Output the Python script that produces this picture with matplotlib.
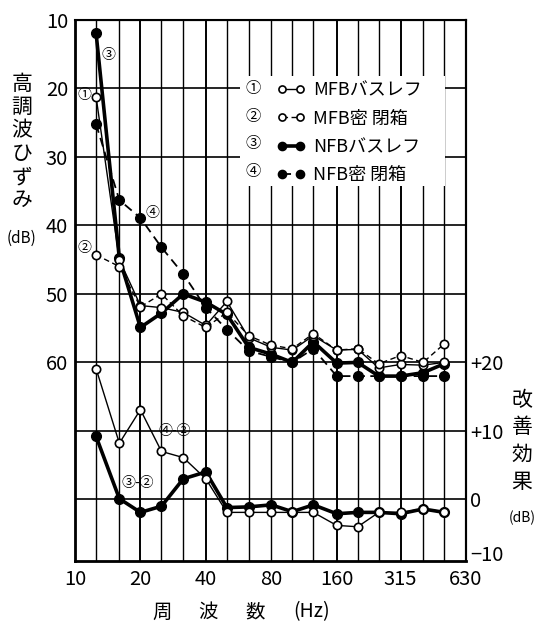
import matplotlib
matplotlib.use("Agg")
import matplotlib.pyplot as plt
from matplotlib.patches import Rectangle

plt.rcParams['font.family'] = ['Noto Sans CJK JP', 'DejaVu Sans']

# 1/3-octave measurement frequencies (Hz)
freqs = [12.5, 16, 20, 25, 31.5, 40, 50, 63, 80, 100, 125, 160, 200, 250, 315, 400, 500]

# Harmonic distortion (dB below fundamental)
mfb_bassreflex = [21.2, 45.0, 51.7, 52.0, 52.7, 54.6, 51.1, 56.4, 57.8, 58.2, 56.1, 58.2, 58.1, 60.8, 60.3, 60.4, 60.0]
mfb_closed     = [44.3, 46.0, 51.9, 50.0, 53.2, 54.9, 52.7, 56.1, 57.5, 58.0, 55.8, 58.2, 58.0, 60.2, 59.0, 60.0, 57.3]
nfb_bassreflex = [11.9, 44.8, 54.9, 52.8, 50.0, 51.2, 53.0, 57.8, 58.8, 60.0, 57.0, 60.1, 60.0, 62.0, 62.0, 61.5, 60.2]
nfb_closed     = [25.2, 36.3, 38.9, 43.2, 47.1, 52.0, 55.2, 58.3, 59.2, 60.0, 58.0, 62.0, 62.0, 62.0, 62.0, 62.0, 62.0]

# Improvement effect (dB, right axis)
effect_3_2 = [9.2, 0.1, -1.9, -1.0, 3.0, 4.0, -1.2, -1.1, -0.8, -1.8, -0.8, -2.1, -1.9, -1.9, -2.1, -1.4, -1.9]
effect_4_2 = [19.1, 8.2, 13.1, 7.0, 6.1, 3.0, -1.9, -1.9, -1.9, -1.9, -1.9, -3.8, -4.0, -1.9, -1.9, -1.4, -1.8]

grid_freqs = [12.5, 16, 20, 25, 31.5, 40, 50, 63, 80, 100, 125, 160, 200, 250, 315, 400, 500]
x_ticks = [10, 20, 40, 80, 160, 315, 630]
left_ticks = [10, 20, 30, 40, 50, 60]
right_ticks = [20, 10, 0]
right_labels = ['+20', '+10', '0']

legend_labels = ['MFBバスレフ', 'MFB密 閉箱', 'NFBバスレフ', 'NFB密 閉箱']
legend_nums = ['①', '②', '③', '④']

W, H = 539, 628
fig = plt.figure(figsize=(W / 100, H / 100), dpi=100)
x0, x1, y0, y1 = 75, 466, 20, 561
ax = fig.add_axes([x0 / W, 1 - y1 / H, (x1 - x0) / W, (y1 - y0) / H])

ax.set_xscale('log', base=2)
ax.set_xlim(10, 630)
ax.set_ylim(89, 10)

# grid
for f in grid_freqs:
    lw = 1.4 if f in (20, 40, 160, 315) else 1.0
    ax.axvline(f, color='black', lw=lw, zorder=1)
for v in range(20, 90, 10):
    ax.axhline(v, color='black', lw=1.2, zorder=1)

# white area behind the legend
ax.add_patch(Rectangle(((240 - x0) / (x1 - x0), (y1 - 186) / (y1 - y0)),
                       (445 - 240) / (x1 - x0), (186 - 76) / (y1 - y0),
                       transform=ax.transAxes, facecolor='white', edgecolor='none', zorder=2))

ms_open, ms_fill = 6, 7
open_kw = dict(marker='o', markersize=ms_open, markerfacecolor='white',
               markeredgecolor='black', markeredgewidth=1.2, color='black', zorder=5)
fill_kw = dict(marker='o', markersize=ms_fill, markerfacecolor='black',
               markeredgecolor='black', color='black', zorder=4)

h3, = ax.plot(freqs, nfb_bassreflex, lw=2.6, **fill_kw)
h4, = ax.plot(freqs, nfb_closed, lw=1.3, linestyle=(0, (5, 3)), **fill_kw)
h1, = ax.plot(freqs, mfb_bassreflex, lw=1.0, **open_kw)
h2, = ax.plot(freqs, mfb_closed, lw=1.0, linestyle=(0, (4, 2.5)), **open_kw)

# right axis: improvement effect
ax2 = ax.twinx()
ax2.set_ylim(80 - 89, 80 - 10)
ax2.plot(freqs, effect_3_2, lw=2.6, **fill_kw)
ax2.plot(freqs, effect_4_2, lw=1.0, **open_kw)

# ticks
ax.set_xticks(x_ticks)
ax.set_xticklabels([str(t) for t in x_ticks])
ax.xaxis.set_minor_locator(matplotlib.ticker.NullLocator())
ax.set_yticks(left_ticks)
ax.set_yticklabels([str(t) for t in left_ticks])
ax.tick_params(axis='both', length=0, labelsize=14.5)
ax.tick_params(axis='x', pad=6)
ax.tick_params(axis='y', pad=5)
ax2.set_yticks(right_ticks)
ax2.set_yticklabels(right_labels)
ax2.tick_params(axis='y', length=0, labelsize=14.5, pad=3)
ax2.text(1.012, (80 - 88.2 - (80 - 89)) / 79, '−10', transform=ax2.transAxes,
         fontsize=14.5, ha='left', va='center')

for sp in ('left', 'bottom'):
    ax.spines[sp].set_linewidth(2.0)
for sp in ('top', 'right'):
    ax.spines[sp].set_linewidth(1.5)
ax2.spines['right'].set_linewidth(1.5)

# legend
leg = ax.legend([h1, h2, h3, h4], legend_labels, loc='upper left',
                bbox_to_anchor=((262 - x0) / (x1 - x0), (y1 - 67) / (y1 - y0)),
                frameon=False, fontsize=13, numpoints=2, handlelength=1.6,
                markerscale=0.85, handletextpad=0.45, labelspacing=0.57, borderpad=0.3)
leg.set_zorder(6)
for i, t in enumerate(legend_nums):
    fig.text(253 / W, 1 - (88 + 28 * i) / H, t, fontsize=11, ha='center', va='center')

# curve annotations
ax.text(14.2, 15.1, '③', fontsize=10, ha='center', va='center', zorder=7)
ax.text(11.1, 21.0, '①', fontsize=10, ha='center', va='center', zorder=7)
ax.text(11.0, 43.3, '②', fontsize=10, ha='center', va='center', zorder=7)
ax.text(22.6, 38.2, '④', fontsize=10, ha='center', va='center', zorder=7)
ax.text(28.8, 70.0, '④-②', fontsize=10, ha='center', va='center', zorder=7)
ax.text(19.5, 77.6, '③-②', fontsize=10, ha='center', va='center', zorder=7)

# axis titles
fig.text(22 / W, 1 - 142 / H, '\n'.join('高調波ひずみ'), fontsize=15,
         ha='center', va='center', linespacing=1.08)
fig.text(22 / W, 1 - 238 / H, '(dB)', fontsize=11, ha='center', va='center')
fig.text(522 / W, 1 - 441 / H, '\n'.join('改善効果'), fontsize=15,
         ha='center', va='center', linespacing=1.3)
fig.text(522 / W, 1 - 518 / H, '(dB)', fontsize=10, ha='center', va='center')

for xp, s in [(162, '周'), (208, '波'), (255, '数'), (312, '(Hz)')]:
    fig.text(xp / W, 1 - 612 / H, s, fontsize=14, ha='center', va='center')

fig.savefig('out.png', dpi=100)
